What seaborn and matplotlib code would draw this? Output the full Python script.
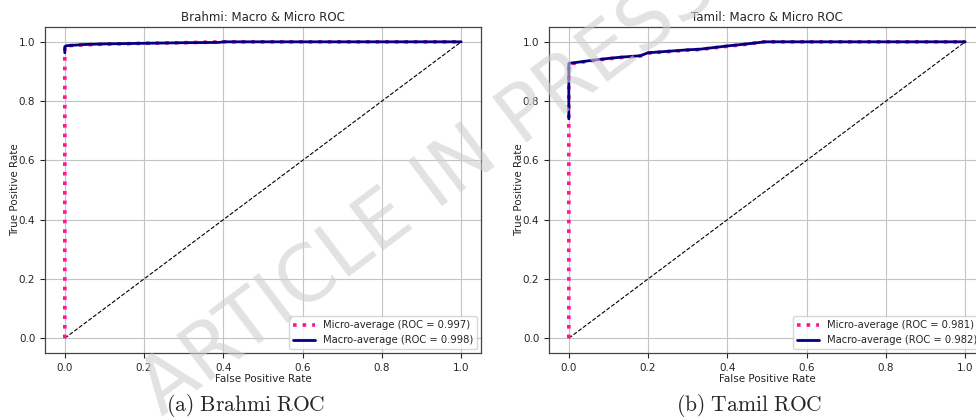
import numpy as np
import pandas as pd
import seaborn as sns
import matplotlib.pyplot as plt

# ROC points
brahmi_micro_fpr = [0.0, 0.0, 0.003, 0.01, 0.05, 0.1, 0.2, 0.3, 0.4, 1.0]
brahmi_micro_tpr = [0.0, 0.985, 0.986, 0.987, 0.990, 0.992, 0.995, 0.997, 1.0, 1.0]
brahmi_macro_fpr = [0.0, 0.0, 0.005, 0.05, 0.1, 0.2, 0.3, 0.39, 0.4, 1.0]
brahmi_macro_tpr = [0.963, 0.984, 0.987, 0.991, 0.993, 0.995, 0.997, 0.998, 1.0, 1.0]

tamil_micro_fpr = [0.0, 0.0, 0.05, 0.1, 0.13, 0.18, 0.2, 0.25, 0.3, 0.33, 0.4, 0.45, 0.49, 1.0]
tamil_micro_tpr = [0.0, 0.925, 0.935, 0.943, 0.947, 0.952, 0.962, 0.967, 0.972, 0.974, 0.985, 0.992, 1.0, 1.0]
tamil_macro_fpr = [0.0, 0.0, 0.05, 0.1, 0.13, 0.18, 0.2, 0.25, 0.3, 0.33, 0.4, 0.45, 0.495, 1.0]
tamil_macro_tpr = [0.74, 0.927, 0.936, 0.944, 0.948, 0.953, 0.963, 0.968, 0.973, 0.975, 0.986, 0.993, 1.0, 1.0]

titles = ["Brahmi: Macro & Micro ROC", "Tamil: Macro & Micro ROC"]
micro_auc = [0.997, 0.981]
macro_auc = [0.998, 0.982]

sns.set_style("ticks")
plt.rcParams["font.family"] = ["DejaVu Sans"]
plt.rcParams["mathtext.fontset"] = "cm"

fig = plt.figure(figsize=(9.76, 4.19), dpi=100)
ax1 = fig.add_axes([45 / 976, 66 / 419, 436 / 976, 326 / 419])
ax2 = fig.add_axes([549 / 976, 66 / 419, 436 / 976, 326 / 419])

curves = [
    (brahmi_micro_fpr, brahmi_micro_tpr, brahmi_macro_fpr, brahmi_macro_tpr),
    (tamil_micro_fpr, tamil_micro_tpr, tamil_macro_fpr, tamil_macro_tpr),
]

for i, ax in enumerate([ax1, ax2]):
    mi_x, mi_y, ma_x, ma_y = curves[i]
    ax.plot([0, 1], [0, 1], "k--", lw=0.8)
    sns.lineplot(x=mi_x, y=mi_y, ax=ax, color="deeppink", linestyle=":", lw=2.6,
                 sort=False, estimator=None,
                 label=f"Micro-average (ROC = {micro_auc[i]:.3f})")
    sns.lineplot(x=ma_x, y=ma_y, ax=ax, color="navy", lw=2,
                 sort=False, estimator=None,
                 label=f"Macro-average (ROC = {macro_auc[i]:.3f})")
    ax.set_xlim(-0.05, 1.05)
    ax.set_ylim(-0.05, 1.05)
    ax.set_xticks([0, 0.2, 0.4, 0.6, 0.8, 1.0])
    ax.set_yticks([0, 0.2, 0.4, 0.6, 0.8, 1.0])
    ax.tick_params(labelsize=7.5, length=3.5, width=0.8)
    ax.grid(True, color="#c4c4c4", lw=0.8)
    ax.set_title(titles[i], fontsize=8.5, pad=4)
    ax.set_xlabel("False Positive Rate", fontsize=7.5, labelpad=1)
    ax.set_ylabel("True Positive Rate", fontsize=7.5, labelpad=-1)
    for s in ax.spines.values():
        s.set_color("#444444")
        s.set_linewidth(0.9)
    ax.legend(loc="lower right", fontsize=7.2, frameon=True, handlelength=2.2,
              borderaxespad=0.4)

fig.text(246 / 976, 1 - 405 / 419, r"$\mathrm{(a)\ Brahmi\ ROC}$", ha="center", va="center",
         fontsize=15.5)
fig.text(749 / 976, 1 - 405 / 419, r"$\mathrm{(b)\ Tamil\ ROC}$", ha="center", va="center",
         fontsize=15.5)

# watermark
fig.text(428 / 976, 1 - 190 / 419, "ARTICLE IN PRESS", ha="center", va="center",
         rotation=37, fontsize=56, color="#cfcfcf", alpha=0.6, zorder=10)

fig.savefig("out.png", dpi=100)
